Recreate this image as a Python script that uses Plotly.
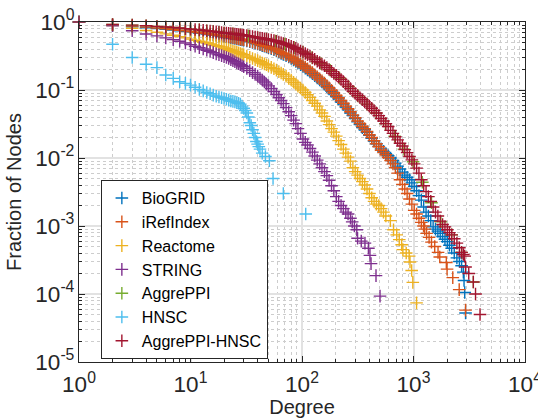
import plotly.graph_objects as go

# ---------------- data ----------------
# shared degree grid for the dense part of every curve
band_deg = [1, 2, 3, 4, 5, 6, 7, 8, 9, 10,
            11, 12, 13, 14, 15, 16, 17, 18, 19, 20,
            21, 22, 23, 24, 25, 26, 27, 28, 29, 30,
            32, 34, 36, 38, 40, 42, 44, 46, 48, 50,
            53, 56, 59, 62, 65, 68, 72, 76, 80, 84,
            88, 92, 97, 102, 107, 112, 118, 124, 130, 137,
            144, 151, 159, 167, 175, 184, 193, 203, 213, 224,
            235, 247, 259, 272, 286, 300, 315, 331, 348, 365,
            383, 402, 422, 443, 465, 488, 512, 538, 565, 593,
            623, 654, 687, 721, 757, 795, 835, 877, 921, 967,
            1015, 1066, 1119, 1175, 1234, 1296, 1360, 1428, 1500, 1575,
            1654, 1737, 1824, 1915, 2011]

biogrid_band_frac = [1.0, .90, .85, .825, .80, .78, .76, .745, .73, .715,
                     .70, .69, .68, .665, .655, .645, .635, .625, .615, .61,
                     .602, .595, .587, .58, .572, .565, .557, .55, .545, .54,
                     .527, .513, .50, .487, .475, .462, .45, .44, .43, .42,
                     .405, .39, .376, .36, .345, .334, .32, .305, .29, .276,
                     .262, .25, .235, .222, .21, .198, .185, .174, .162, .151,
                     .141, .131, .122, .112, .104, .096, .088, .08, .074, .067,
                     .062, .056, .051, .046, .042, .038, .034, .031, .028, .026,
                     .0238, .0215, .0195, .0178, .0162, .0148, .0136, .0125, .0116, .0108,
                     .0100, .0092, .0084, .0076, .0069, .0062, .0056, .0052, .0048, .0043,
                     .0038, .0033, .0028, .0024, .0019, .0016, .0014, .0012, .00097, .0009,
                     .00084, .00078, .0007, .00064, .00059]
biogrid_tail_deg = [2100, 2200, 2320, 2450, 2580, 2700, 2800, 2840, 2880, 2930]
biogrid_tail_frac = [.00052, .00047, .0004, .00034, .0003, .00026, .00021, .000158,
                     .000105, .0000525]

irefindex_band_frac = [1.0, .91, .87, .84, .815, .795, .775, .758, .74, .725,
                       .71, .70, .69, .675, .665, .655, .645, .635, .625, .62,
                       .612, .605, .597, .59, .582, .575, .567, .56, .555, .55,
                       .537, .523, .51, .497, .485, .472, .46, .45, .44, .43,
                       .415, .40, .386, .37, .355, .344, .33, .315, .30, .285,
                       .27, .258, .243, .23, .218, .205, .192, .18, .168, .156,
                       .146, .136, .126, .116, .108, .099, .091, .083, .077, .07,
                       .064, .058, .053, .048, .043, .039, .035, .032, .029, .027,
                       .0245, .022, .02, .018, .0162, .0146, .013, .012, .0112, .0102,
                       .0092, .0082, .0072, .006, .0048, .0041, .0035, .003, .0025, .0021,
                       .0017, .0015, .0013, .00113]
irefindex_tail_deg = [1230, 1260, 1310, 1380, 1450, 1550, 1660, 1720, 1970, 2000, 2250,
                      2570, 2930]
irefindex_tail_frac = [.001, .0009, .00078, .00068, .00058, .0005, .00041, .00035, .00029,
                       .000232, .000174, .000116, .000058]

reactome_band_frac = [1.0, .89, .81, .75, .705, .67, .64, .61, .585, .56,
                      .54, .52, .505, .49, .475, .46, .45, .44, .43, .415,
                      .405, .395, .385, .375, .367, .36, .352, .345, .337, .33,
                      .317, .303, .29, .28, .27, .26, .25, .242, .235, .226,
                      .215, .205, .196, .186, .178, .17, .16, .148, .14, .13,
                      .122, .114, .107, .10, .092, .085, .078, .07, .064, .058,
                      .051, .046, .041, .035, .031, .027, .024, .021, .018, .0158,
                      .0135, .0118, .0103, .009, .0072, .0063, .0056, .005, .0045, .004,
                      .0035, .003, .0026, .0023, .0021, .002, .0018, .0016, .0014]
reactome_tail_deg = [620, 662, 707, 745, 783, 803, 860, 915, 930, 963, 986, 1065]
reactome_tail_frac = [.0012, .00088, .00074, .00063, .00053, .00045, .0004, .00036,
                      .000296, .000222, .000148, .000074]

string_band_frac = [1.0, .88, .745, .665, .625, .585, .55, .52, .49, .465,
                    .44, .42, .40, .385, .37, .355, .34, .33, .32, .31,
                    .30, .29, .28, .27, .26, .25, .243, .235, .227, .22,
                    .207, .193, .18, .17, .16, .15, .14, .131, .122, .115,
                    .105, .095, .086, .077, .07, .063, .055, .048, .042, .036,
                    .032, .027, .023, .019, .017, .0155, .0138, .0122, .0107, .0093,
                    .0082, .0072, .0063, .0055, .0047, .0039, .0033, .0027, .0023, .002,
                    .0018, .0016, .0015, .0013]
string_tail_deg = [282, 295, 310, 315, 340, 367, 394, 407, 416, 461, 501]
string_tail_frac = [.00115, .001, .00088, .00066, .0006, .00056, .00047, .00037, .00028,
                    .000186, .000093]

aggreppi_deg = [1, 2, 3, 4, 5, 6, 7, 8, 9, 10, 12, 14, 16, 18, 20, 24, 28, 33, 40, 48,
                58, 70, 85, 102, 123, 148, 179, 217, 262, 317, 383, 463, 560, 678, 820,
                992, 1200, 1450, 1760, 2200, 2700, 3440]
aggreppi_frac = [1.0, .92, .90, .88, .86, .845, .83, .815, .80, .785, .765, .745,
                 .725, .705, .69, .67, .65, .625, .59, .56,
                 .525, .475, .42, .36, .30, .245, .195, .15, .112, .082, .062,
                 .046, .032, .021, .0135, .0088, .0044, .0022, .00115, .00074,
                 .00041, .00015]

hnsc_deg = [1, 2, 3, 4, 5, 6, 7, 8, 9, 10, 11, 12, 13, 14, 15, 16, 17, 18, 19, 20,
            21, 22, 23, 24, 25, 26, 27, 28, 29, 30, 31, 32, 33, 34, 35, 36, 37, 38, 39, 40,
            41, 42, 44, 47, 51, 55, 68, 108]
hnsc_frac = [1.0, .47, .30, .239, .213, .166, .148, .132, .125, .118, .11, .102,
             .097, .092, .088, .084, .081, .079, .077, .075,
             .073, .071, .069, .068, .067, .065, .064, .062, .058, .054,
             .050, .046, .040, .033, .030, .026, .023, .020, .0175, .016,
             .0147, .0135, .0118, .0105, .0091, .0050, .0030, .0015]

aggreppi_hnsc_band_frac = [1.0, .92, .90, .88, .86, .845, .83, .815, .80, .785,
                           .775, .765, .755, .745, .735, .725, .715, .705, .697, .69,
                           .685, .68, .675, .67, .665, .66, .655, .65, .645, .64,
                           .63, .62, .61, .60, .59, .582, .575, .567, .56, .554,
                           .545, .533, .522, .508, .496, .483, .468, .454, .44, .424,
                           .41, .394, .375, .36, .345, .33, .315, .297, .283, .265,
                           .253, .24, .227, .213, .2, .188, .175, .165, .154, .143,
                           .133, .122, .114, .105, .096, .089, .083, .077, .072, .067,
                           .062, .058, .054, .05, .046, .042, .038, .035, .032, .029,
                           .0255, .023, .0205, .0185, .0165, .015, .0133, .012, .0105, .0094,
                           .0082, .0071, .006, .0048, .0039, .0032, .0027, .0023, .0019, .0016,
                           .0014, .00118, .00105, .00097, .00088]
aggreppi_hnsc_tail_deg = [2100, 2200, 2320, 2450, 2580, 2700, 2800, 2880, 2930, 3130,
                          3440, 3600, 3950]
aggreppi_hnsc_tail_frac = [.0008, .00074, .00065, .00056, .00048, .00041, .00038, .00036,
                           .00025, .0002, .00015, .0001, .00005]

series_names = ["BioGRID", "iRefIndex", "Reactome", "STRING", "AggrePPI", "HNSC",
                "AggrePPI-HNSC"]

# ---------------- assemble series ----------------
def join(band_frac, tail_deg, tail_frac):
    return band_deg[:len(band_frac)] + tail_deg, band_frac + tail_frac

data = [
    join(biogrid_band_frac, biogrid_tail_deg, biogrid_tail_frac),
    join(irefindex_band_frac, irefindex_tail_deg, irefindex_tail_frac),
    join(reactome_band_frac, reactome_tail_deg, reactome_tail_frac),
    join(string_band_frac, string_tail_deg, string_tail_frac),
    (aggreppi_deg, aggreppi_frac),
    (hnsc_deg, hnsc_frac),
    join(aggreppi_hnsc_band_frac, aggreppi_hnsc_tail_deg, aggreppi_hnsc_tail_frac),
]

# ---------------- styling ----------------
colors = ["#0072BD", "#D95319", "#EDB120", "#7E2F8E", "#77AC30", "#4DBEEE", "#A2142F"]
FONT = "Liberation Sans, Arial, Helvetica, sans-serif"
INK = "#262626"

fig = go.Figure()
for name, (d, f), c in zip(series_names, data, colors):
    fig.add_trace(go.Scatter(
        x=d, y=f, mode="markers", name=name, cliponaxis=False,
        marker=dict(symbol="cross-thin", size=9, color=c,
                    line=dict(color=c, width=1.4))))

axis_common = dict(
    type="log", showline=True, linecolor=INK, linewidth=1, mirror="allticks",
    ticks="inside", ticklen=6, tickwidth=1, tickcolor=INK,
    tickmode="linear", tick0=0, dtick=1, exponentformat="power",
    showgrid=True, gridcolor="#e2e2e2", gridwidth=1.5, zeroline=False,
    automargin=False, ticklabeloverflow="allow",
    tickfont=dict(family=FONT, size=18, color=INK),
    minor=dict(dtick="D1", ticks="inside", ticklen=3, tickcolor=INK,
               showgrid=True, gridcolor="#cdcdcd", griddash="dot", gridwidth=1),
)

fig.update_xaxes(
    **axis_common, range=[0, 4], ticklabelstandoff=3,
    labelalias={"1": "10<sup>0</sup>", "10": "10<sup>1</sup>"},
    title=dict(text="Degree", font=dict(family=FONT, size=20, color=INK), standoff=14),
)
fig.update_yaxes(
    **axis_common, range=[-5, 0],
    labelalias={"1": "10<sup>0</sup>",
                "10<sup>\u22121</sup>": "10<sup>-1</sup>",
                "10<sup>\u22122</sup>": "10<sup>-2</sup>",
                "10<sup>\u22123</sup>": "10<sup>-3</sup>",
                "10<sup>\u22124</sup>": "10<sup>-4</sup>",
                "10<sup>\u22125</sup>": "10<sup>-5</sup>"},
    title=dict(text="Fraction of Nodes", font=dict(family=FONT, size=20, color=INK),
               standoff=8),
)

fig.update_layout(
    width=538, height=418,
    margin=dict(l=79, r=13, t=22, b=56, pad=0),
    paper_bgcolor="white", plot_bgcolor="white",
    font=dict(family=FONT, color=INK),
    legend=dict(x=0.049, y=0.535, xanchor="left", yanchor="top",
                bgcolor="white", bordercolor=INK, borderwidth=1,
                font=dict(family=FONT, size=16, color="#000000"),
                tracegroupgap=0),
    showlegend=True,
)

fig.write_html("out.html")
